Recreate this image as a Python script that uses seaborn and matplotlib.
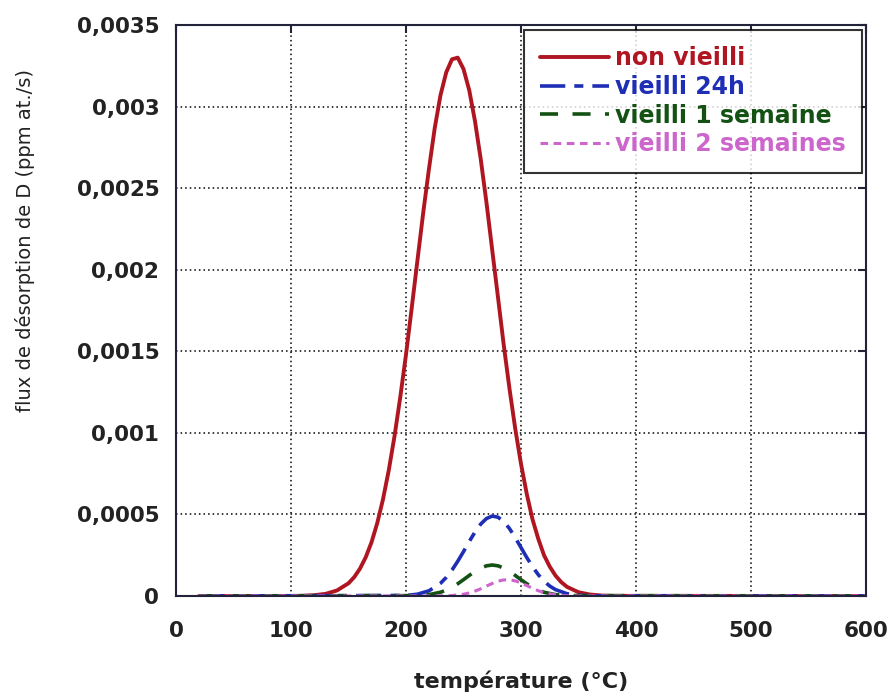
import numpy as np
import pandas as pd
import matplotlib
matplotlib.use("Agg")
import matplotlib.pyplot as plt
import seaborn as sns

# Values (temperature in °C, flux in ppm at./s)
temp_red = [20, 100, 110, 120, 130, 140, 150, 155, 160, 165, 170, 175, 180, 185, 190, 195,
            200, 205, 210, 215, 220, 225, 230, 235, 240, 245, 250, 255, 260, 265, 270, 275,
            280, 285, 290, 295, 300, 305, 310, 315, 320, 325, 330, 335, 340, 350, 360, 370,
            380, 600]
flux_red = [0, 0.0000005, 0.0000016, 0.0000048, 0.000013, 0.000034, 0.000078, 0.000116,
            0.000168, 0.000238, 0.000329, 0.000447, 0.000593, 0.00077, 0.000979, 0.001218,
            0.00148, 0.001767, 0.00206, 0.002351, 0.00262, 0.002869, 0.00307, 0.00321,
            0.00329, 0.00330, 0.00323, 0.0031, 0.00291, 0.002677, 0.00241, 0.002119,
            0.00183, 0.001538, 0.00127, 0.001025, 0.00081, 0.000626, 0.00047, 0.000351,
            0.00025, 0.00018, 0.000125, 0.000085, 0.000056, 0.000023, 0.000009, 0.000003,
            0.000001, 0]

temp_blue = [20, 200, 210, 220, 230, 235, 240, 245, 250, 255, 260, 265, 270, 275, 280, 285,
             290, 295, 300, 305, 310, 315, 320, 325, 330, 340, 350, 360, 600]
flux_blue = [0, 0.0000033, 0.000011, 0.000032, 0.000078, 0.000114, 0.000159, 0.000213,
             0.000272, 0.000334, 0.000392, 0.000441, 0.000475, 0.00049, 0.000483, 0.000457,
             0.000413, 0.000358, 0.000297, 0.000236, 0.00018, 0.000131, 0.000091, 0.000061,
             0.000039, 0.000014, 0.000005, 0.000001, 0]

temp_green = [20, 210, 220, 230, 235, 240, 245, 250, 255, 260, 265, 270, 275, 280, 285, 290,
              295, 300, 305, 310, 315, 320, 330, 340, 600]
flux_green = [0, 0.0000024, 0.0000084, 0.000023, 0.000036, 0.000054, 0.000075, 0.0001,
              0.000126, 0.000151, 0.000171, 0.000185, 0.00019, 0.000185, 0.000171, 0.000151,
              0.000126, 0.0001, 0.000075, 0.000054, 0.000036, 0.000023, 0.0000084,
              0.0000024, 0]

temp_pink = [20, 230, 240, 250, 255, 260, 265, 270, 275, 280, 285, 290, 295, 300, 305, 310,
             315, 320, 330, 340, 350, 600]
flux_pink = [0, 0.0000006, 0.0000029, 0.0000108, 0.0000186, 0.00003, 0.0000442, 0.000061,
             0.000077, 0.000091, 0.0000986, 0.000099, 0.0000927, 0.00008, 0.000064, 0.000047,
             0.0000325, 0.000021, 0.0000066, 0.0000015, 0, 0]

labels = ["non vieilli", "vieilli 24h", "vieilli 1 semaine", "vieilli 2 semaines"]
colors = ["#B01622", "#1F2FB5", "#145214", "#CC66CC"]

x_ticks = [0, 100, 200, 300, 400, 500, 600]
y_ticks = [0, 0.0005, 0.001, 0.0015, 0.002, 0.0025, 0.003, 0.0035]
y_tick_labels = ["0", "0,0005", "0,001", "0,0015", "0,002", "0,0025", "0,003", "0,0035"]

sns.set_theme(style="white")
plt.rcParams["font.family"] = ["DejaVu Sans"]

fig = plt.figure(figsize=(8.93, 7.0), dpi=100)
ax = fig.add_axes([176 / 893, 1 - 596 / 700, 690 / 893, 571 / 700])

series = [(temp_red, flux_red), (temp_blue, flux_blue), (temp_green, flux_green), (temp_pink, flux_pink)]
styles = ["-", (0, (7, 2.5, 2.5, 2.5)), (0, (5, 4)), (0, (2.5, 1.8))]
widths = [2.8, 2.6, 2.6, 2.2]

for (t, f), lab, col, ls, lw in zip(series, labels, colors, styles, widths):
    df = pd.DataFrame({"T": t, "flux": f})
    sns.lineplot(data=df, x="T", y="flux", ax=ax, color=col, linestyle=ls,
                 linewidth=lw, label=lab, sort=False)

ax.set_xlim(0, 600)
ax.set_ylim(0, 0.0035)
ax.set_xticks(x_ticks)
ax.set_xticklabels([str(v) for v in x_ticks])
ax.set_yticks(y_ticks)
ax.set_yticklabels(y_tick_labels)

ax.grid(True, color="black", linestyle=(0, (1, 2)), linewidth=1.1)
for s in ax.spines.values():
    s.set_color("#22223a")
    s.set_linewidth(1.5)
ax.tick_params(direction="in", length=6, width=1.5, color="#22223a",
               top=True, right=True, labeltop=False, labelright=False,
               labelsize=15.5)
ax.tick_params(axis="y", pad=12)
ax.tick_params(axis="x", pad=18)
for lab in ax.get_xticklabels() + ax.get_yticklabels():
    lab.set_fontweight("bold")
    lab.set_color("#222222")

ax.set_xlabel("température (°C)", fontsize=16, fontweight="bold", color="#222222")
ax.set_ylabel("flux de désorption de D (ppm at./s)", fontsize=14, color="#222222")
ax.xaxis.set_label_coords(0.5, -0.13)
ax.yaxis.set_label_coords(-0.205, 0.623)

leg = ax.legend(loc="upper right", bbox_to_anchor=(0.994, 0.992), fontsize=17,
                frameon=True, fancybox=False, edgecolor="black", handlelength=2.9,
                handletextpad=0.25, labelspacing=0.2, borderpad=0.7, borderaxespad=0)
leg.get_frame().set_linewidth(1.5)
for txt, col in zip(leg.get_texts(), colors):
    txt.set_color(col)
    txt.set_fontweight("bold")

fig.savefig("out.png", dpi=100, facecolor="white")
